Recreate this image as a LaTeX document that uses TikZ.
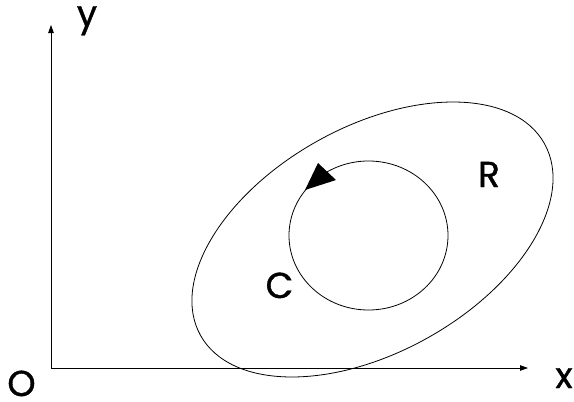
\documentclass[tikz,border=0pt]{standalone}
\usepackage{fontspec}
\setmainfont{Poppins}
\newfontfamily\lblfont[FakeBold=1]{Poppins}
\usetikzlibrary{arrows.meta}
\begin{document}
\begin{tikzpicture}[x=1pt,y=-1pt,line width=0.8pt,
  lbl/.style={font=\lblfont\fontsize{36}{36}\selectfont,inner sep=0pt,anchor=base},
  axis/.style={-{Triangle[length=8pt,width=5.5pt]}}]
\useasboundingbox (0,0) rectangle (574,402);
\coordinate (o) at (51,368);
\coordinate (ytip) at (51,25);
\coordinate (xtip) at (528,368);
\coordinate (rc) at (372.5,239.5);
\coordinate (cc) at (368.5,235.5);
\draw[axis] (o) -- (ytip);
\draw[axis] (o) -- (xtip);
\draw[rotate around={29.15:(rc)}] (rc) ellipse [x radius=196.9pt, y radius=112.8pt];
\draw (cc) ellipse [x radius=79.5pt, y radius=74.5pt];
\fill (318,163) -- (336,180) -- (305,190) -- cycle;
\node[lbl] (ylab) at (87,26) {y};
\node[lbl] (xlab) at (564,388) {x};
\node[lbl] (olab) at (21.5,396) {O};
\node[lbl] (rlab) at (489,187) {R};
\node[lbl] (clab) at (279.5,298) {C};
\end{tikzpicture}
\end{document}
